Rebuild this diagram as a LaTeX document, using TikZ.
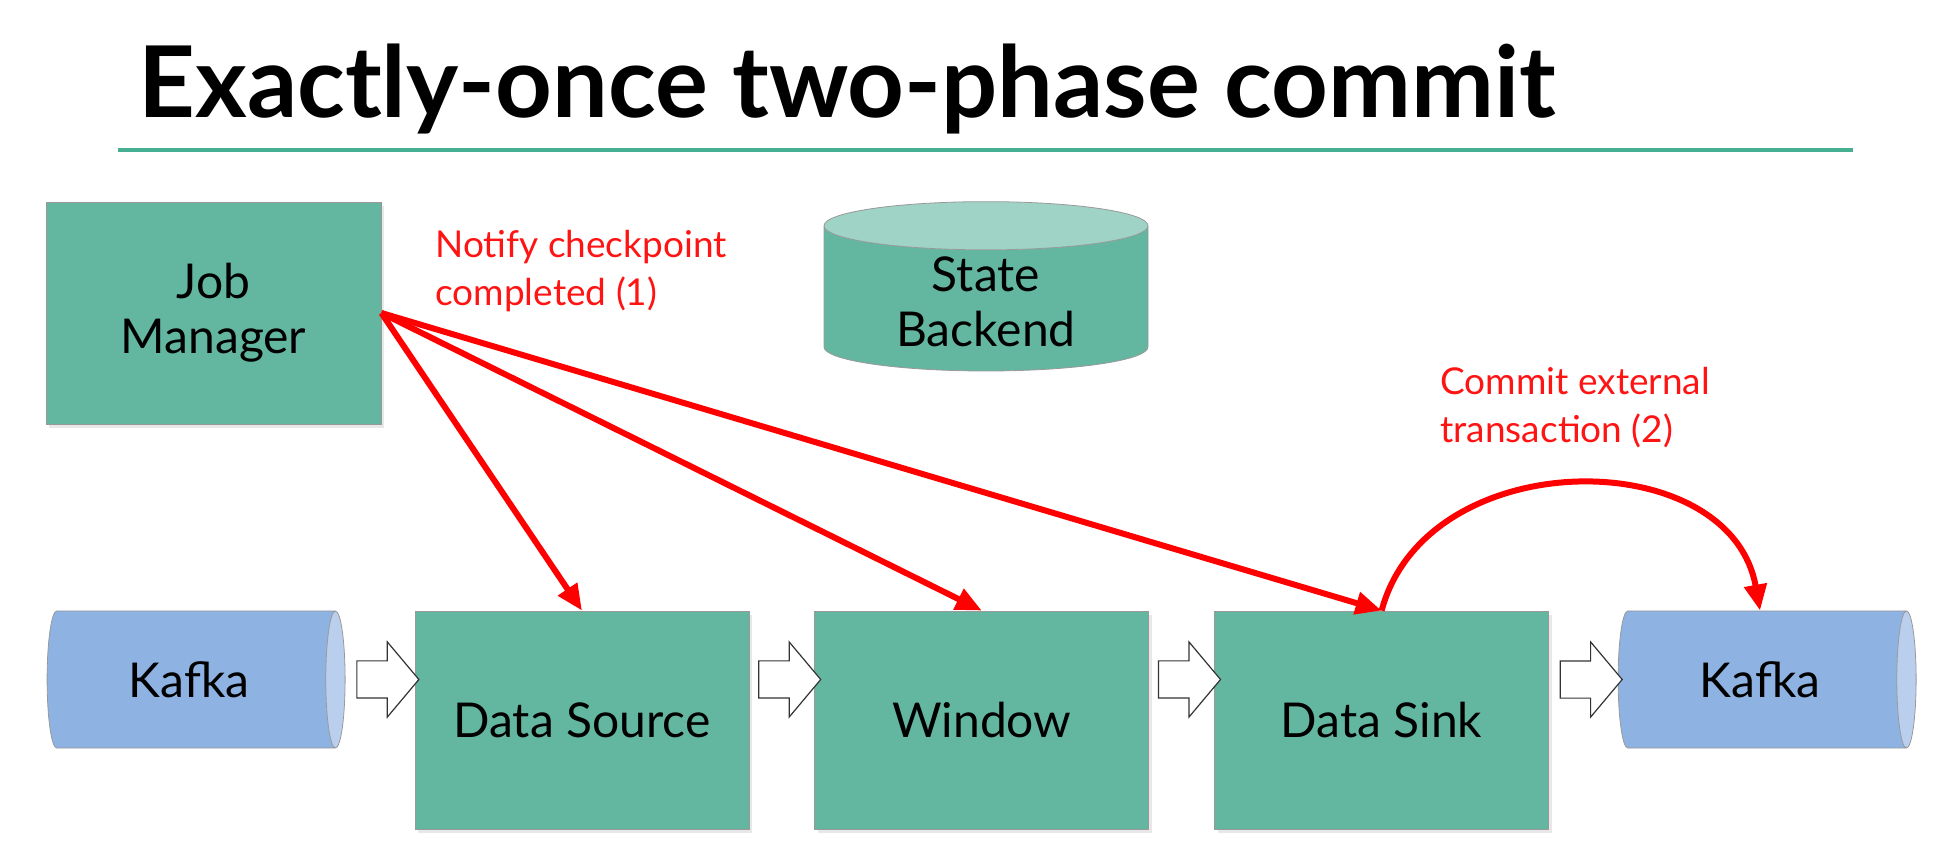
\documentclass[tikz,border=0pt]{standalone}
\usepackage{fontspec}
\setmainfont{Lato}
\usepackage{xcolor}
\usetikzlibrary{arrows.meta,positioning,shapes.geometric,shapes.arrows,shadows,calc}

\definecolor{boxgreen}{RGB}{99,183,161}
\definecolor{topgreen}{RGB}{158,211,197}
\definecolor{kafkablue}{RGB}{142,179,226}
\definecolor{kafkaend}{RGB}{186,207,238}
\definecolor{rulegreen}{RGB}{72,176,146}
\definecolor{notered}{RGB}{255,20,20}

\newcommand{\bodyfont}{\fontsize{24}{27.5}\selectfont}
\newcommand{\notefont}{\fontsize{18.5}{24}\selectfont}

\begin{document}
\begin{tikzpicture}[
  x=0.5pt,y=-0.5pt,
  node distance=32.5pt,
  box/.style={draw=black!40,fill=boxgreen,minimum width=167pt,minimum height=109pt,
    align=center,font=\bodyfont,
    drop shadow={shadow xshift=1.5pt,shadow yshift=-2pt,opacity=0.18}},
  db/.style={cylinder,shape border rotate=90,aspect=0.25,draw=black!40,
    cylinder uses custom fill,cylinder body fill=boxgreen,cylinder end fill=topgreen,
    minimum width=162pt,minimum height=80pt,align=center,font=\bodyfont},
  queue/.style={cylinder,aspect=0.39,draw=black!40,
    cylinder uses custom fill,cylinder body fill=kafkablue,cylinder end fill=kafkaend,
    minimum width=68.5pt,minimum height=149pt,font=\bodyfont},
  flow/.style={single arrow,draw=black!80,fill=white,line width=0.6pt,
    minimum height=31pt,inner xsep=0pt,inner ysep=9pt,
    single arrow head extend=9.5pt,single arrow tip angle=100},
  note/.style={text=notered,align=left,font=\notefont,anchor=base west,inner sep=0pt},
  sig/.style={-{Triangle[length=13pt,width=11pt]},draw=red,line width=3pt}
]
\useasboundingbox (0,0) rectangle (1954,865);

% title
\node[anchor=base west,inner sep=0pt,font=\fontsize{49.5}{58}\selectfont\bfseries]
  (title) at (138,118) {Exactly-once two-phase commit};
\draw[rulegreen,line width=2pt] (118,150) -- (1853,150);

% top row
\node[box,minimum width=167.5pt,minimum height=111pt] (jm) at (213.5,313) {Job\\Manager};
\node[db] (state) at (986,302) {State\\Backend};

% pipeline
\node[box] (src) at (582,720) {Data Source};
\node[box,right=of src] (win) {Window};
\node[box,right=of win] (sink) {Data Sink};
\node[queue] (kin) at (189,679.5) {Kafka};
\node[queue] (kout) at (1760,679.5) {Kafka};

\node[flow] (f1) at ($(kin.east)!.5!(src.west |- kin.east)$) {};
\node[flow] (f2) at ($(src.east |- kin.east)!.5!(win.west |- kin.east)$) {};
\node[flow] (f3) at ($(win.east |- kin.east)!.5!(sink.west |- kin.east)$) {};
\node[flow] (f4) at ($(sink.east |- kout.west)!.5!(kout.west)$) {};

% notifications
\node[note] (ntf) at (435,306) {Notify checkpoint\\completed (1)};
\node[note] (cmt) at (1440,443) {Commit external\\transaction (2)};

\draw[sig] (jm.east) -- (src.north);
\draw[sig] (jm.east) -- (win.north);
\draw[sig] (jm.east) -- (sink.north);
\draw[sig] (sink.north) .. controls +(45,-168) and +(-30,-168) .. (kout.north);
\end{tikzpicture}
\end{document}
